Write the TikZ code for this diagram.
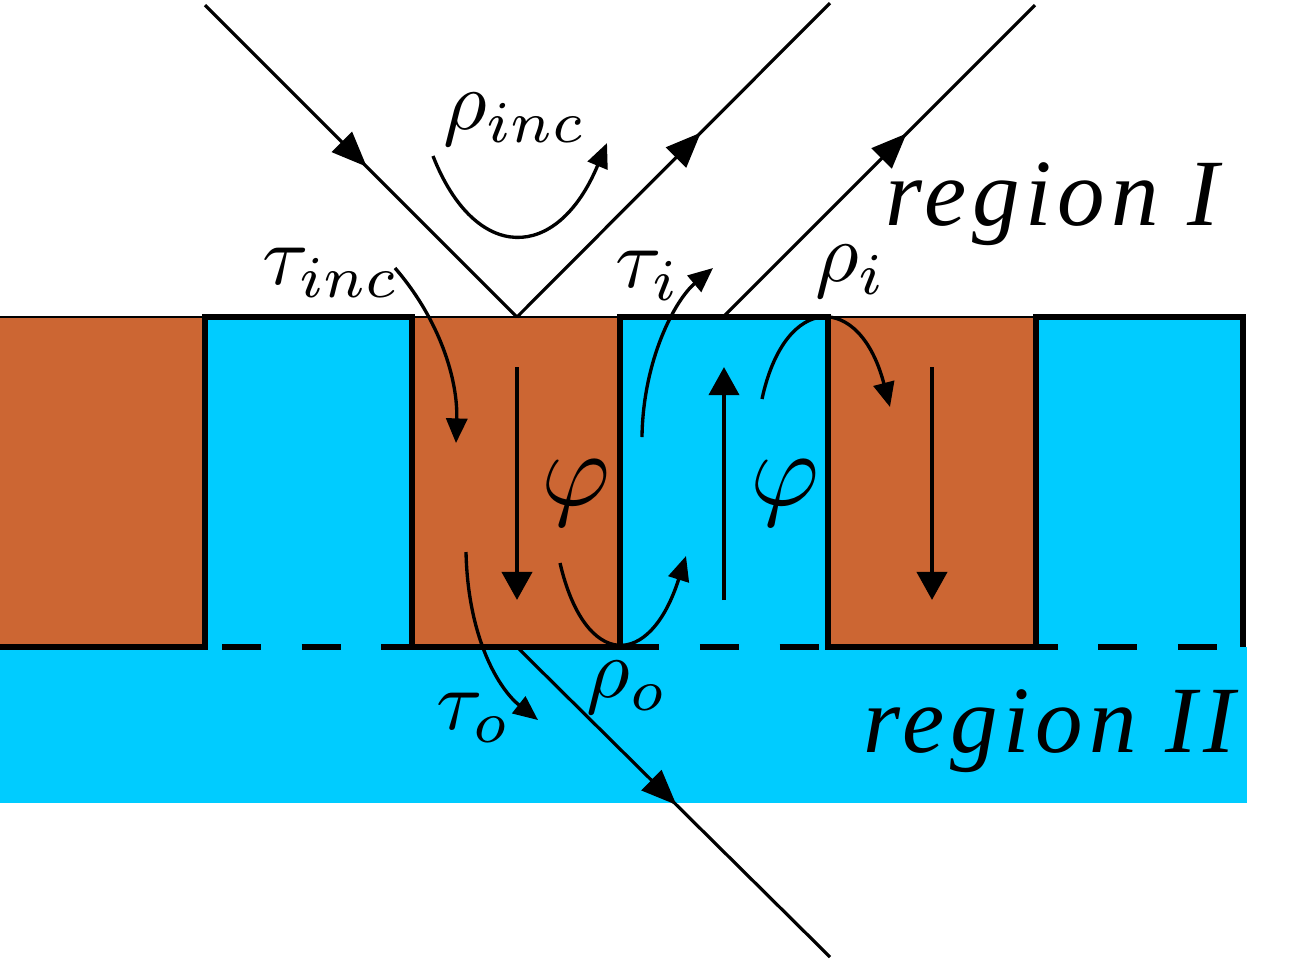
\documentclass[tikz,border=0pt]{standalone}
\usepackage{amsmath}
\usepackage{fontspec}
\newfontfamily\regionfont[LetterSpace=6]{Liberation Serif}
\usetikzlibrary{arrows.meta,decorations.markings}

\definecolor{slabbrown}{RGB}{204,102,51}
\definecolor{slabblue}{RGB}{0,204,255}

\begin{document}
\begin{tikzpicture}[x=0.01cm, y=-0.01cm,
    ray/.style={line width=0.9pt},
    midarrow/.style={postaction={decorate, decoration={markings,
        mark=at position #1 with {\arrow{Triangle[length=10pt,width=8pt]}}}}},
    wave/.style={line width=1.3pt, -{Triangle[length=8pt,width=8.5pt]}},
    coefarrow/.style={line width=0.95pt, -{Triangle[length=7pt,width=6pt]}},
    lbl/.style={scale=2.4, inner sep=0pt},
    phase/.style={scale=3, inner sep=0pt},
    region/.style={font=\regionfont\itshape\fontsize{27}{32}\selectfont, inner sep=0pt, anchor=base west}]
    \useasboundingbox (0,0) rectangle (1308,959);

    % media
    \fill[slabblue] (0,647) rectangle (1247,803);
    \fill[slabbrown] (0,317) rectangle (205,647);
    \fill[slabblue] (205,317) rectangle (412,647);
    \fill[slabbrown] (412,317) rectangle (620,647);
    \fill[slabblue] (620,317) rectangle (828,647);
    \fill[slabbrown] (828,317) rectangle (1036,647);
    \fill[slabblue] (1036,317) rectangle (1243,647);

    \draw[line width=0.5pt] (0,317) -- (1243,317);
    \draw[line width=1.8pt, dash pattern=on 11.1pt off 11.55pt, dash phase=4.8pt] (0,647) -- (1247,647);
    \draw[line width=1.8pt] (0,647) -- (205,647) -- (205,317) -- (412,317) -- (412,647) -- (620,647)
        -- (620,317) -- (828,317) -- (828,647) -- (1036,647) -- (1036,317) -- (1243,317) -- (1243,647);

    % rays
    \coordinate (inTop) at (205,5);
    \coordinate (hitTop) at (517,317);
    \coordinate (outTop) at (830,3);
    \coordinate (hitTwo) at (723,317);
    \coordinate (outTwo) at (1035,5);
    \coordinate (hitBot) at (517,647);
    \coordinate (outBot) at (830,957);

    \draw[ray, midarrow=0.52] (inTop) -- (hitTop);
    \draw[ray, midarrow=0.59] (hitTop) -- (outTop);
    \draw[ray, midarrow=0.59] (hitTwo) -- (outTwo);
    \draw[ray, midarrow=0.51] (hitBot) -- (outBot);

    % waves in the grooves
    \draw[wave] (517,367) -- (517,600);
    \draw[wave] (724,600) -- (724,367);
    \draw[wave] (932,367) -- (932,600);

    % coefficients
    \draw[coefarrow] (433,156) .. controls (475,263) and (557,263) .. (607,143);
    \draw[coefarrow] (395,268) .. controls (440,320) and (458,380) .. (456,443);
    \draw[coefarrow] (642,437) .. controls (643,360) and (675,300) .. (713,268);
    \draw[coefarrow] (762,399) .. controls (785,292) and (860,292) .. (890,407);
    \draw[coefarrow] (560,563) .. controls (585,670) and (650,670) .. (686,556);
    \draw[coefarrow] (466,552) .. controls (468,640) and (500,690) .. (538,720);

    \node[lbl] (rhoinc) at (515,120) {$\rho_{inc}$};
    \node[lbl] (tauinc) at (331,273) {$\tau_{inc}$};
    \node[lbl] (taui) at (648,276) {$\tau_i$};
    \node[lbl] (rhoi) at (851,272) {$\rho_i$};
    \node[lbl] (rhoo) at (627,688) {$\rho_o$};
    \node[lbl] (tauo) at (474,718) {$\tau_o$};
    \node[phase] (phiA) at (576,493) {$\varphi$};
    \node[phase] (phiB) at (785,493) {$\varphi$};

    \node[region] (regI) at (885,225) {region I};
    \node[region] (regII) at (863,752) {region II};
\end{tikzpicture}
\end{document}
